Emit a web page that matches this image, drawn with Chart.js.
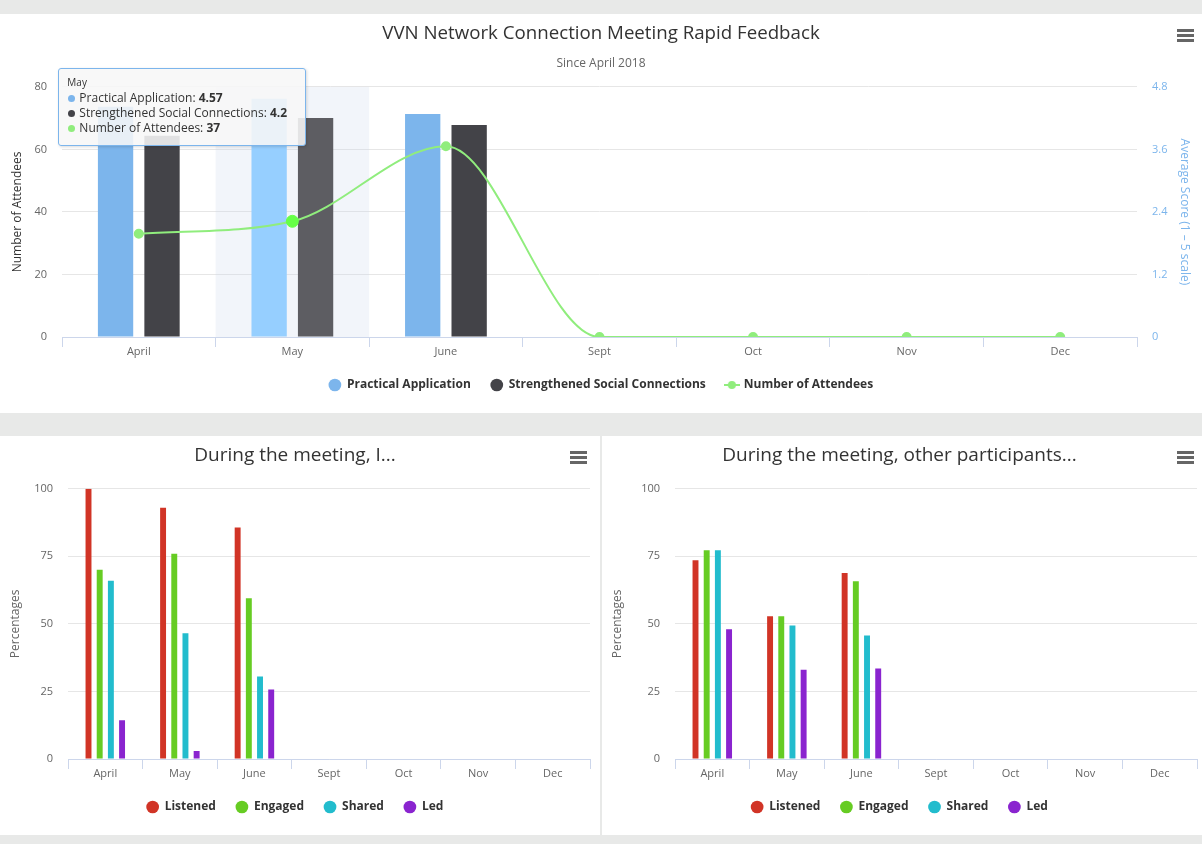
<!DOCTYPE html>
<html>
<head>
<meta charset="utf-8">
<script src="https://cdn.jsdelivr.net/npm/chart.js@4.4.1/dist/chart.umd.min.js"></script>
<style>
  html, body { margin: 0; padding: 0; background: #e8e9e8; width: 1202px; height: 844px; overflow: hidden; font-family: "Open Sans", sans-serif; }
  .panel { position: absolute; background: #fff; }
  .panel canvas { position: absolute; left: 0; top: 0; }
  .menu { position: absolute; width: 17px; height: 3px; background: #666; box-shadow: 0 5px 0 #666, 0 10px 0 #666; }
  #tip { position: absolute; box-sizing: border-box; width: 248px; height: 78px; padding: 6px 8px; background: rgba(247,247,247,.88); border: 1px solid #7cb5ec; border-radius: 3px; box-shadow: 1px 1px 3px rgba(0,0,0,.15); color: #333; font-size: 12px; line-height: 15px; white-space: nowrap; display: none; }
  #tip .t { font-size: 10px; line-height: 14px; margin-bottom: 1px; }
  #tip .d { display: inline-block; width: 7px; height: 7px; border-radius: 50%; margin: 0 4px 1px 1px; vertical-align: middle; }
</style>
</head>
<body>
<div class="panel" id="p-top" style="left:0;top:14px;width:1202px;height:399px">
  <canvas id="c-feedback" width="1202" height="399"></canvas>
  <div class="menu" style="left:1177px;top:15px"></div>
  <div id="tip"></div>
</div>
<div class="panel" style="left:0;top:436px;width:600px;height:399px">
  <canvas id="c-self" width="600" height="399"></canvas>
  <div class="menu" style="left:570px;top:15px"></div>
</div>
<div class="panel" style="left:602px;top:436px;width:600px;height:399px">
  <canvas id="c-others" width="600" height="399"></canvas>
  <div class="menu" style="left:575px;top:15px"></div>
</div>
<script>
const months = ["April", "May", "June", "Sept", "Oct", "Nov", "Dec"];

// average scores, 1-5 scale (right axis)
const practicalApplication = [4.42, 4.57, 4.28];
const socialConnections = [3.86, 4.2, 4.07];
// left axis
const attendees = [33, 37, 61, 0, 0, 0, 0];

// "During the meeting, I..." (percent)
const selfListened = [100, 93, 85.7];
const selfEngaged = [70, 76, 59.5];
const selfShared = [66, 46.5, 30.5];
const selfLed = [14.3, 3, 25.7];

// "During the meeting, other participants..." (percent)
const othersListened = [73.6, 52.8, 68.8];
const othersEngaged = [77.3, 52.8, 65.8];
const othersShared = [77.3, 49.4, 45.7];
const othersLed = [48, 33, 33.5];

const hoverIndex = 1;

Chart.defaults.font.family = '"Open Sans", sans-serif';
Chart.defaults.color = "#666";

const gridColor = "#e6e6e6";
const axisColor = "#ccd6eb";

function fixWidth(w) {
  return (scale) => { scale.width = w; };
}

function fixHeight(h) {
  return (scale) => { scale.height = h; };
}

function categoryAxis() {
  return {
    grid: { offset: true, drawOnChartArea: false, drawTicks: true, tickLength: 10, color: axisColor },
    border: { color: axisColor },
    ticks: { color: "#666", font: { size: 11 }, padding: -2, maxRotation: 0 },
    afterFit: fixHeight(22)
  };
}

function legendOptions() {
  return {
    position: "bottom",
    labels: {
      usePointStyle: true,
      boxHeight: 9,
      color: "#333",
      font: { size: 12, weight: "bold" },
      padding: 20,
      sort: (a, b) => a.datasetIndex - b.datasetIndex
    }
  };
}

function lineMarker(color) {
  const c = document.createElement("canvas");
  c.width = 16;
  c.height = 10;
  const g = c.getContext("2d");
  g.strokeStyle = color;
  g.lineWidth = 2;
  g.beginPath();
  g.moveTo(0, 5);
  g.lineTo(16, 5);
  g.stroke();
  g.fillStyle = color;
  g.beginPath();
  g.arc(8, 5, 4, 0, Math.PI * 2);
  g.fill();
  return c;
}

const hoverBand = {
  id: "hoverBand",
  beforeDatasetsDraw(chart, args, opts) {
    if (opts.index == null) return;
    const x = chart.scales.x;
    const w = x.width / x.ticks.length;
    const cx = x.getPixelForValue(opts.index);
    const area = chart.chartArea;
    chart.ctx.save();
    chart.ctx.fillStyle = opts.color;
    chart.ctx.fillRect(cx - w / 2, area.top, w, area.bottom - area.top);
    chart.ctx.restore();
  }
};

const feedback = new Chart(document.getElementById("c-feedback"), {
  type: "bar",
  plugins: [hoverBand],
  data: {
    labels: months,
    datasets: [
      { label: "Practical Application", data: practicalApplication, yAxisID: "y1", backgroundColor: "#7cb5ec", hoverBackgroundColor: "#96cfff", categoryPercentage: 0.605, barPercentage: 0.76, order: 1, pointStyle: "circle" },
      { label: "Strengthened Social Connections", data: socialConnections, yAxisID: "y1", backgroundColor: "#434348", hoverBackgroundColor: "#5d5d62", categoryPercentage: 0.605, barPercentage: 0.76, order: 1, pointStyle: "circle" },
      {
        label: "Number of Attendees", type: "line", data: attendees, yAxisID: "y",
        borderColor: "#90ed7d", backgroundColor: "#90ed7d", borderWidth: 2,
        pointRadius: (ctx) => (ctx.dataIndex === hoverIndex ? 6 : 4),
        pointHoverRadius: 6,
        cubicInterpolationMode: "monotone", order: 0, pointStyle: lineMarker("#90ed7d")
      }
    ]
  },
  options: {
    responsive: false,
    animation: false,
    events: [],
    layout: { padding: { left: 0, right: 0, top: 0, bottom: 12 } },
    plugins: {
      title: { display: true, text: "VVN Network Connection Meeting Rapid Feedback", color: "#333", font: { size: 18.7, weight: "normal" }, padding: { top: 8, bottom: 0 } },
      subtitle: { display: true, text: "Since April 2018", color: "#666", font: { size: 12 }, padding: { top: 12, bottom: 16 } },
      legend: legendOptions(),
      tooltip: { enabled: false },
      hoverBand: { index: hoverIndex, color: "rgba(204,214,235,0.25)" }
    },
    elements: { point: { pointStyle: "circle" } },
    scales: {
      x: categoryAxis(),
      y: {
        position: "left",
        min: 0, max: 80,
        ticks: { stepSize: 20, color: "#666", font: { size: 11 }, padding: 15 },
        grid: { color: gridColor, drawTicks: false },
        border: { display: false },
        title: { display: true, text: "Number of Attendees", color: "#333", font: { size: 12 }, padding: { top: 10, bottom: 0 } },
        afterFit: fixWidth(62)
      },
      y1: {
        position: "right",
        min: 0, max: 4.8,
        ticks: { stepSize: 1.2, color: "#7cb5ec", font: { size: 11 }, padding: 15 },
        grid: { drawOnChartArea: false, drawTicks: false },
        border: { display: false },
        title: { display: true, text: "Average Score (1 – 5 scale)", color: "#7cb5ec", font: { size: 12 }, padding: { top: 10, bottom: 0 } },
        afterFit: fixWidth(65)
      }
    }
  }
});

// the line's legend marker is a canvas; draw the actual points as circles
feedback.data.datasets[2].pointStyle = "circle";
feedback.options.plugins.legend.labels.generateLabels = (chart) => {
  const items = Chart.defaults.plugins.legend.labels.generateLabels(chart);
  items.forEach((item) => {
    if (item.datasetIndex === 2) item.pointStyle = lineMarker("#90ed7d");
  });
  return items;
};
feedback.update();

function showTooltip(chart, i) {
  const meta = chart.getDatasetMeta(2);
  const pt = meta.data[i];
  const rows = chart.data.datasets.map((ds) => {
    const color = typeof ds.backgroundColor === "string" ? ds.backgroundColor : "#333";
    return '<div><span class="d" style="background:' + color + '"></span>' + ds.label + ": <b>" + ds.data[i] + "</b></div>";
  });
  const tip = document.getElementById("tip");
  tip.innerHTML = '<div class="t">' + chart.data.labels[i] + "</div>" + rows.join("");
  tip.style.left = (pt.x - 234) + "px";
  tip.style.top = (chart.chartArea.top - 19) + "px";
  tip.style.display = "block";
}

feedback.setActiveElements(feedback.data.datasets.map((ds, d) => ({ datasetIndex: d, index: hoverIndex })));
feedback.render();
showTooltip(feedback, hoverIndex);

function breakdownChart(id, title, series, leftWidth, rightPad) {
  return new Chart(document.getElementById(id), {
    type: "bar",
    data: {
      labels: months,
      datasets: series.map((s) => ({
        label: s.label,
        data: s.data,
        backgroundColor: s.color,
        hoverBackgroundColor: s.color,
        categoryPercentage: 0.6,
        barPercentage: 0.53,
        pointStyle: "circle"
      }))
    },
    options: {
      responsive: false,
      animation: false,
      events: [],
      layout: { padding: { left: 0, right: rightPad, top: 0, bottom: 12 } },
      plugins: {
        title: { display: true, text: title, color: "#333", font: { size: 19, weight: "normal" }, padding: { top: 8, bottom: 22 } },
        legend: legendOptions(),
        tooltip: { enabled: false }
      },
      scales: {
        x: categoryAxis(),
        y: {
          min: 0, max: 100,
          ticks: { stepSize: 25, color: "#666", font: { size: 11 }, padding: 15 },
          grid: { color: gridColor, drawTicks: false },
          border: { display: false },
          title: { display: true, text: "Percentages", color: "#666", font: { size: 12 }, padding: { top: 8, bottom: 0 } },
          afterFit: fixWidth(leftWidth)
        }
      }
    }
  });
}

breakdownChart("c-self", "During the meeting, I...", [
  { label: "Listened", data: selfListened, color: "#d13426" },
  { label: "Engaged", data: selfEngaged, color: "#66cc23" },
  { label: "Shared", data: selfShared, color: "#22bccd" },
  { label: "Led", data: selfLed, color: "#8a24cf" }
], 68, 10);

breakdownChart("c-others", "During the meeting, other participants...", [
  { label: "Listened", data: othersListened, color: "#d13426" },
  { label: "Engaged", data: othersEngaged, color: "#66cc23" },
  { label: "Shared", data: othersShared, color: "#22bccd" },
  { label: "Led", data: othersLed, color: "#8a24cf" }
], 73, 5);
</script>
</body>
</html>
